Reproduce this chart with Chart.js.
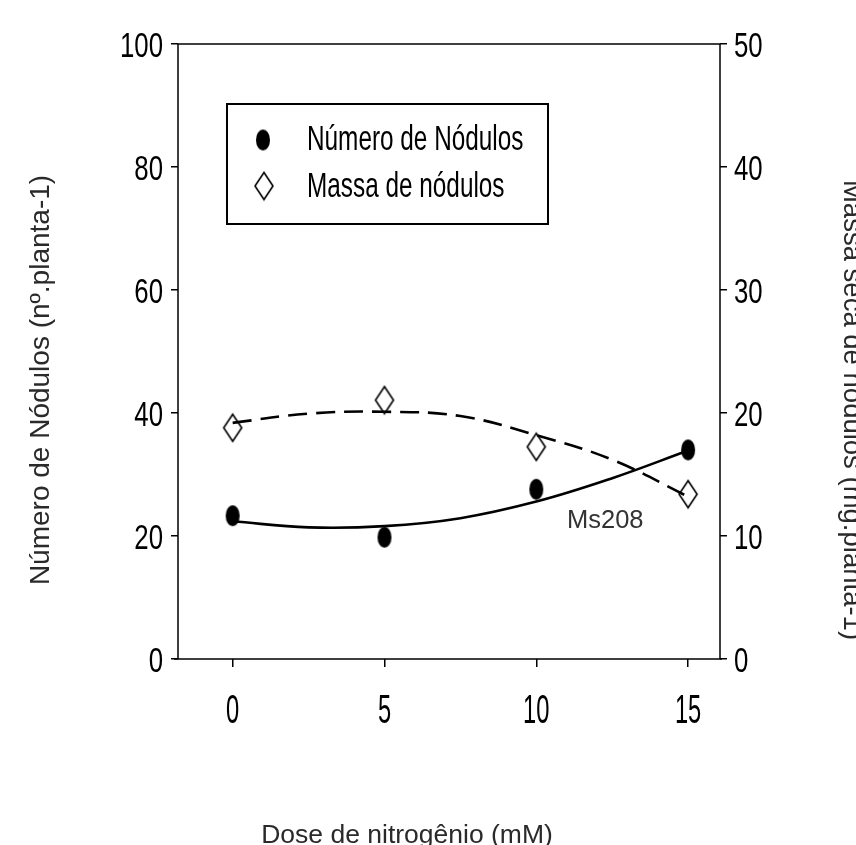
<!DOCTYPE html>
<html>
<head>
<meta charset="utf-8">
<script src="https://cdn.jsdelivr.net/npm/chart.js@4.4.1/dist/chart.umd.min.js"></script>
<style>
  html, body { margin: 0; padding: 0; background: #ffffff; }
  #wrap { width: 856px; height: 845px; position: relative; }
</style>
</head>
<body>
<div id="wrap"><canvas id="c" width="856" height="845"></canvas></div>
<script>
// ---------------- data ----------------
const doses = [0, 5, 10, 15];
const numeroNodulos = [23.3, 19.8, 27.6, 34.0];          // left axis (nº.planta-1)
const massaNodulos = [18.8, 21.05, 17.25, 13.4];         // right axis (mg.planta-1)
const fitDoses = [0, 2.5, 5, 7.5, 10, 12.5, 15];
const fitNumero = [22.4, 21.4, 21.6, 22.9, 25.6, 29.4, 33.9];
const fitMassa = [19.2, 19.95, 20.1, 19.75, 18.2, 16.2, 13.2];
const xTicks = [0, 5, 10, 15];
const yLeftTicks = [0, 20, 40, 60, 80, 100];
const yRightTicks = [0, 10, 20, 30, 40, 50];
const seriesNames = ['Número de Nódulos', 'Massa de nódulos'];
const curveLabel = 'Ms208';
const xTitle = 'Dose de nitrogênio (mM)';
const yLeftTitle = 'Número de Nódulos (nº.planta-1)';
const yRightTitle = 'Massa seca de nódulos (mg.planta-1)';

// ---------------- marker images ----------------
function ellipseImg(w, h) {
  const c = document.createElement('canvas');
  c.width = w + 2; c.height = h + 2;
  const g = c.getContext('2d');
  g.fillStyle = '#000';
  g.beginPath();
  g.ellipse(c.width / 2, c.height / 2, w / 2, h / 2, 0, 0, Math.PI * 2);
  g.fill();
  return c;
}
function diamondImg(w, h, lw) {
  const c = document.createElement('canvas');
  c.width = w + 4; c.height = h + 4;
  const g = c.getContext('2d');
  g.strokeStyle = '#000';
  g.lineWidth = lw;
  g.lineJoin = 'miter';
  const cx = c.width / 2, cy = c.height / 2;
  g.beginPath();
  g.moveTo(cx, cy - h / 2);
  g.lineTo(cx + w / 2, cy);
  g.lineTo(cx, cy + h / 2);
  g.lineTo(cx - w / 2, cy);
  g.closePath();
  g.stroke();
  return c;
}
const dotImg = ellipseImg(14, 21);
const diaImg = diamondImg(18, 27, 1.6);

const toXY = (xs, ys) => xs.map((x, i) => ({ x: x, y: ys[i] }));

// ---------------- plugin: box, tick labels, titles, legend ----------------
const SANS = '"Liberation Sans", Arial, sans-serif';

function stretchedText(ctx, text, x, yCenter, size, kx, ky, align) {
  ctx.save();
  ctx.font = size + 'px ' + SANS;
  ctx.textAlign = align;
  ctx.textBaseline = 'alphabetic';
  const capH = 0.716 * size * ky;
  ctx.translate(x, yCenter + capH / 2);
  ctx.scale(kx, ky);
  ctx.fillText(text, 0, 0);
  ctx.restore();
}

const decor = {
  id: 'decor',
  afterDraw(chart) {
    const ctx = chart.ctx;
    const a = chart.chartArea;
    const sx = chart.scales.x, sy = chart.scales.y, sy2 = chart.scales.y2;
    ctx.save();
    // frame
    ctx.strokeStyle = '#000';
    ctx.lineWidth = 1.5;
    ctx.beginPath();
    ctx.moveTo(a.left, a.top); ctx.lineTo(a.right, a.top);
    ctx.moveTo(a.left, a.top); ctx.lineTo(a.left, a.bottom);
    ctx.moveTo(a.right, a.top); ctx.lineTo(a.right, a.bottom);
    ctx.moveTo(a.left - 4, a.bottom); ctx.lineTo(a.right + 2, a.bottom);
    ctx.stroke();

    // tick labels
    ctx.fillStyle = '#000';
    yLeftTicks.forEach(v => stretchedText(ctx, String(v), a.left - 15, sy.getPixelForValue(v), 30, 0.86, 1.17, 'right'));
    yRightTicks.forEach(v => stretchedText(ctx, String(v), a.right + 14, sy2.getPixelForValue(v), 30, 0.86, 1.17, 'left'));
    xTicks.forEach(v => stretchedText(ctx, String(v), sx.getPixelForValue(v), a.bottom + 49, 30, 0.79, 1.36, 'center'));

    // axis titles
    ctx.fillStyle = '#2a2a2a';
    ctx.font = '26.5px ' + SANS;
    ctx.textAlign = 'center';
    ctx.textBaseline = 'alphabetic';
    ctx.fillText(xTitle, 407, 843);

    ctx.save();
    ctx.font = '28px ' + SANS;
    ctx.translate(49, 380);
    ctx.rotate(-Math.PI / 2);
    ctx.fillText(yLeftTitle, 0, 0);
    ctx.restore();

    ctx.save();
    ctx.font = '27.5px ' + SANS;
    ctx.translate(844, 410);
    ctx.rotate(Math.PI / 2);
    ctx.fillText(yRightTitle, 0, 0);
    ctx.restore();

    // curve label
    ctx.fillStyle = '#333';
    ctx.font = '25.5px ' + SANS;
    ctx.textAlign = 'left';
    ctx.fillText(curveLabel, 567, 528);

    // legend
    ctx.strokeStyle = '#000';
    ctx.lineWidth = 2;
    ctx.strokeRect(227, 104, 321, 120);
    ctx.drawImage(dotImg, 263 - dotImg.width / 2, 140 - dotImg.height / 2);
    ctx.drawImage(diaImg, 264 - diaImg.width / 2, 186 - diaImg.height / 2);
    ctx.fillStyle = '#000';
    stretchedText(ctx, seriesNames[0], 307, 137, 29.5, 0.825, 1.2, 'left');
    stretchedText(ctx, seriesNames[1], 307, 184, 29.5, 0.825, 1.2, 'left');
    ctx.restore();
  }
};

// ---------------- chart ----------------
const gridOpts = { display: true, drawOnChartArea: false, drawTicks: true, tickLength: 7, color: '#000', lineWidth: 1.5 };

new Chart(document.getElementById('c'), {
  type: 'scatter',
  data: {
    datasets: [
      {
        label: seriesNames[0] + ' (ajuste)',
        data: toXY(fitDoses, fitNumero),
        yAxisID: 'y',
        showLine: true,
        borderColor: '#000',
        borderWidth: 2.6,
        pointRadius: 0,
        tension: 0.4,
        fill: false
      },
      {
        label: seriesNames[1] + ' (ajuste)',
        data: toXY(fitDoses, fitMassa),
        yAxisID: 'y2',
        showLine: true,
        borderColor: '#000',
        borderWidth: 2.6,
        borderDash: [19, 9],
        pointRadius: 0,
        tension: 0.4,
        fill: false
      },
      {
        label: seriesNames[0],
        data: toXY(doses, numeroNodulos),
        yAxisID: 'y',
        pointStyle: dotImg,
        pointRadius: 8
      },
      {
        label: seriesNames[1],
        data: toXY(doses, massaNodulos),
        yAxisID: 'y2',
        pointStyle: diaImg,
        pointRadius: 10
      }
    ]
  },
  options: {
    responsive: false,
    animation: false,
    devicePixelRatio: 1,
    layout: { padding: { top: 44, left: 0, right: 0, bottom: 0 } },
    plugins: { legend: { display: false }, tooltip: { enabled: false } },
    scales: {
      x: {
        type: 'linear', position: 'bottom', min: -1.8, max: 16.05,
        afterBuildTicks: s => { s.ticks = xTicks.map(v => ({ value: v })); },
        ticks: { display: false },
        grid: Object.assign({}, gridOpts, { tickLength: 8 }),
        border: { display: false },
        afterFit: s => { s.height = 186; }
      },
      y: {
        type: 'linear', position: 'left', min: 0, max: 100,
        afterBuildTicks: s => { s.ticks = yLeftTicks.map(v => ({ value: v })); },
        ticks: { display: false },
        grid: gridOpts,
        border: { display: false },
        afterFit: s => { s.width = 178; }
      },
      y2: {
        type: 'linear', position: 'right', min: 0, max: 50,
        afterBuildTicks: s => { s.ticks = yRightTicks.map(v => ({ value: v })); },
        ticks: { display: false },
        grid: gridOpts,
        border: { display: false },
        afterFit: s => { s.width = 136; }
      }
    }
  },
  plugins: [decor]
});
</script>
</body>
</html>
